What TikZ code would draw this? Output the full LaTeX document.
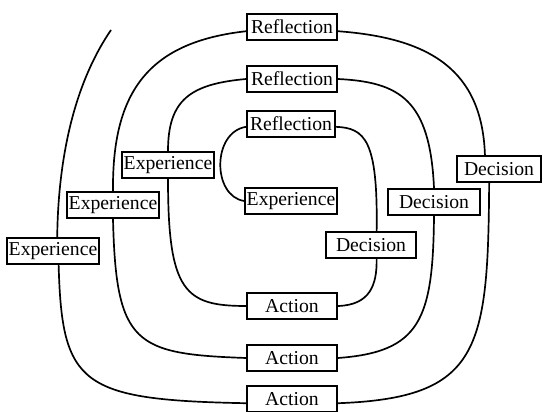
\documentclass[tikz,border=0pt]{standalone}
\usepackage{fontspec}
\setmainfont{Liberation Serif}
\usetikzlibrary{positioning}

\begin{document}
\begin{tikzpicture}[
  x=0.025cm,y=-0.025cm,
  every node/.style={font=\fontsize{14}{16}\selectfont},
  stagebox/.style={draw,line width=1.2pt,fill=white,minimum width=2.25cm,minimum height=0.66cm,inner sep=1.2pt},
  loop/.style={line width=1.2pt}
]
\useasboundingbox (0,0) rectangle (543,412);

% Reflection
\node[stagebox] (r3) at (292,27) {Reflection};
\node[stagebox] (r2) at (292,79) {Reflection};
\node[stagebox,minimum width=2.2cm] (r1) at (291,124) {Reflection};

% Experience
\node[stagebox,minimum width=2.22cm] (e0) at (291,201) {Experience};
\node[stagebox] (e1) at (168,165) {Experience};
\node[stagebox] (e2) at (113,205) {Experience};
\node[stagebox] (e3) at (53,251) {Experience};

% Decision
\node[stagebox] (d1) at (371,245) {Decision};
\node[stagebox,minimum width=2.3cm] (d2) at (434,202) {Decision};
\node[stagebox,minimum width=2.1cm] (d3) at (499,169) {Decision};

% Action
\node[stagebox] (a1) at (292,306) {Action};
\node[stagebox] (a2) at (292,358) {Action};
\node[stagebox] (a3) at (292,399) {Action};

% free end
\coordinate (start) at (111,30);

% outer turn
\draw[loop] (start) .. controls (70,90) and (58,170) .. ([xshift=3pt]e3.north);
\draw[loop] ([xshift=4pt]e3.south) .. controls (62,385) and (80,400) .. ([yshift=-3pt]a3.west);
\draw[loop] ([yshift=-3pt]a3.east) .. controls (480,398) and (488,350) .. ([xshift=-7pt]d3.south);
\draw[loop] ([xshift=-10pt]d3.north) .. controls (482,70) and (430,38) .. ([yshift=-3pt]r3.east);

% middle turn
\draw[loop] ([yshift=-3pt]r3.west) .. controls (150,42) and (112,90) .. (e2.north);
\draw[loop] (e2.south) .. controls (116,345) and (135,354) .. (a2.west);
\draw[loop] (a2.east) .. controls (420,352) and (433,320) .. (d2.south);
\draw[loop] (d2.north) .. controls (430,100) and (400,82) .. (r2.east);

% inner turn
\draw[loop] (r2.west) .. controls (190,84) and (168,100) .. (e1.north);
\draw[loop] (e1.south) .. controls (168,292) and (185,306) .. (a1.west);
\draw[loop] (a1.east) .. controls (370,305) and (377,285) .. ([xshift=4pt]d1.south);
\draw[loop] ([xshift=4pt]d1.north) .. controls (378,140) and (365,128) .. ([yshift=-2pt]r1.east);
\draw[loop] ([yshift=-2pt]r1.west) .. controls (212,132) and (212,196) .. (e0.west);
\end{tikzpicture}
\end{document}
